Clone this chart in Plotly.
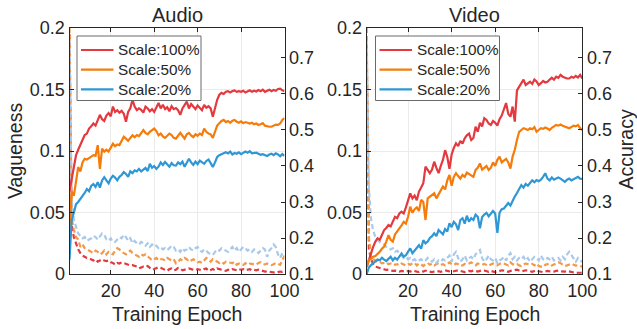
import plotly.graph_objects as go

epochs = list(range(1, 101))
scale_labels = ["Scale:100%", "Scale:50%", "Scale:20%"]
panel_titles = ["Audio", "Video"]

# ---------- Audio: accuracy (right axis) ----------
audio_acc_100 = [0.33,0.364,0.40,0.43,0.445,0.458,0.47,0.486,0.49,0.504,
                 0.51,0.518,0.512,0.528,0.542,0.53,0.525,0.54,0.547,0.538,
                 0.565,0.55,0.555,0.548,0.553,0.545,0.523,0.55,0.56,0.584,
                 0.565,0.555,0.56,0.556,0.548,0.565,0.56,0.552,0.558,0.55,
                 0.565,0.575,0.56,0.57,0.558,0.563,0.552,0.566,0.558,0.561,
                 0.555,0.542,0.56,0.568,0.579,0.56,0.572,0.565,0.558,0.568,
                 0.561,0.555,0.57,0.562,0.566,0.56,0.537,0.56,0.584,0.598,
                 0.603,0.60,0.606,0.608,0.604,0.608,0.61,0.606,0.608,0.606,
                 0.609,0.604,0.608,0.61,0.606,0.609,0.607,0.611,0.608,0.612,
                 0.606,0.61,0.612,0.608,0.611,0.609,0.614,0.615,0.61,0.608]
audio_acc_50 = [0.22,0.33,0.317,0.36,0.397,0.385,0.41,0.42,0.418,0.422,
                0.425,0.43,0.428,0.458,0.392,0.448,0.44,0.445,0.44,0.452,
                0.462,0.455,0.46,0.458,0.47,0.481,0.476,0.47,0.478,0.485,
                0.48,0.486,0.483,0.49,0.50,0.492,0.488,0.495,0.50,0.504,
                0.497,0.485,0.49,0.482,0.478,0.485,0.49,0.486,0.478,0.476,
                0.485,0.492,0.484,0.476,0.488,0.492,0.485,0.48,0.488,0.484,
                0.49,0.486,0.504,0.495,0.49,0.488,0.478,0.498,0.512,0.519,
                0.525,0.528,0.522,0.525,0.52,0.526,0.528,0.523,0.52,0.524,
                0.519,0.522,0.521,0.518,0.52,0.516,0.518,0.514,0.516,0.519,
                0.512,0.51,0.509,0.509,0.512,0.515,0.514,0.518,0.528,0.533]
audio_acc_20 = [0.14,0.25,0.27,0.294,0.30,0.31,0.317,0.325,0.336,0.33,
                0.345,0.35,0.342,0.355,0.34,0.36,0.369,0.36,0.352,0.365,
                0.373,0.368,0.36,0.37,0.375,0.383,0.378,0.37,0.385,0.38,
                0.388,0.385,0.392,0.385,0.39,0.395,0.386,0.406,0.395,0.40,
                0.392,0.398,0.41,0.403,0.411,0.405,0.398,0.408,0.402,0.401,
                0.41,0.405,0.412,0.398,0.408,0.42,0.41,0.403,0.412,0.405,
                0.415,0.41,0.406,0.414,0.418,0.408,0.397,0.41,0.425,0.43,
                0.432,0.434,0.438,0.435,0.44,0.432,0.436,0.434,0.438,0.433,
                0.436,0.44,0.437,0.441,0.435,0.437,0.437,0.434,0.431,0.433,
                0.43,0.428,0.432,0.434,0.43,0.435,0.432,0.427,0.433,0.428]

# ---------- Audio: vagueness (left axis) ----------
audio_vag_100 = [0.195,0.04,0.03,0.024,0.02,0.017,0.015,0.014,0.013,0.0128,
                 0.012,0.011,0.012,0.01,0.011,0.012,0.011,0.0105,0.011,0.0095,
                 0.009,0.0075,0.009,0.0085,0.0095,0.0088,0.0085,0.0078,0.007,0.0072,
                 0.0065,0.006,0.0046,0.005,0.006,0.0055,0.0065,0.005,0.0035,0.004,
                 0.0045,0.0055,0.005,0.004,0.003,0.0025,0.004,0.0045,0.003,0.0035,
                 0.005,0.0045,0.003,0.0035,0.004,0.0045,0.004,0.0035,0.003,0.004,
                 0.0035,0.003,0.004,0.0045,0.0025,0.003,0.004,0.003,0.0045,0.004,
                 0.0035,0.003,0.0025,0.0035,0.003,0.004,0.0035,0.003,0.004,0.0035,
                 0.004,0.003,0.0035,0.004,0.003,0.0035,0.003,0.0035,0.003,0.0025,
                 0.002,0.0022,0.002,0.0015,0.0012,0.001,0.0015,0.002,0.0018,0.0025]
audio_vag_50 = [0.2,0.045,0.036,0.03,0.028,0.022,0.024,0.021,0.02,0.019,
                0.018,0.017,0.019,0.018,0.016,0.017,0.019,0.016,0.018,0.017,
                0.016,0.019,0.021,0.02,0.018,0.017,0.016,0.018,0.019,0.017,
                0.016,0.015,0.014,0.016,0.015,0.016,0.014,0.013,0.011,0.012,
                0.013,0.011,0.012,0.012,0.011,0.013,0.012,0.011,0.012,0.0087,
                0.01,0.012,0.011,0.013,0.012,0.01,0.011,0.012,0.011,0.0095,
                0.01,0.009,0.011,0.013,0.012,0.01,0.012,0.011,0.01,0.009,
                0.01,0.0085,0.01,0.0095,0.009,0.0088,0.01,0.0075,0.0085,0.0075,
                0.0073,0.0088,0.0075,0.0085,0.0082,0.0079,0.0075,0.009,0.0095,0.008,
                0.0078,0.0085,0.0078,0.0072,0.008,0.009,0.0082,0.0075,0.011,0.015]
audio_vag_20 = [0.19,0.06,0.044,0.038,0.033,0.031,0.029,0.03,0.027,0.028,
                0.029,0.031,0.03,0.028,0.031,0.033,0.032,0.028,0.027,0.029,
                0.026,0.026,0.028,0.03,0.029,0.032,0.03,0.027,0.029,0.025,
                0.027,0.025,0.024,0.026,0.025,0.023,0.025,0.022,0.024,0.022,
                0.023,0.021,0.022,0.02,0.021,0.0195,0.021,0.023,0.022,0.019,
                0.02,0.018,0.021,0.019,0.02,0.022,0.02,0.019,0.021,0.022,
                0.019,0.018,0.02,0.019,0.017,0.016,0.0155,0.018,0.02,0.019,
                0.021,0.02,0.019,0.018,0.02,0.022,0.019,0.021,0.018,0.02,
                0.022,0.021,0.019,0.02,0.018,0.02,0.019,0.017,0.019,0.021,
                0.02,0.014,0.019,0.021,0.024,0.022,0.016,0.013,0.017,0.019]

# ---------- Video: accuracy (right axis) ----------
video_acc_100 = [0.12,0.139,0.16,0.176,0.19,0.199,0.195,0.21,0.222,0.228,
                 0.236,0.232,0.245,0.259,0.255,0.268,0.273,0.268,0.285,0.306,
                 0.324,0.31,0.318,0.305,0.329,0.34,0.352,0.398,0.39,0.38,
                 0.39,0.412,0.395,0.38,0.40,0.417,0.444,0.425,0.392,0.432,
                 0.45,0.463,0.455,0.47,0.462,0.477,0.485,0.49,0.472,0.478,
                 0.509,0.495,0.52,0.51,0.533,0.528,0.518,0.514,0.525,0.52,
                 0.512,0.53,0.54,0.56,0.575,0.545,0.537,0.565,0.523,0.61,
                 0.62,0.63,0.64,0.625,0.63,0.634,0.628,0.64,0.635,0.625,
                 0.63,0.636,0.632,0.634,0.64,0.645,0.64,0.648,0.645,0.653,
                 0.648,0.645,0.643,0.643,0.648,0.645,0.65,0.646,0.653,0.643]
video_acc_50 = [0.12,0.139,0.142,0.148,0.15,0.155,0.162,0.17,0.176,0.19,
                0.208,0.195,0.19,0.21,0.22,0.227,0.235,0.245,0.24,0.259,
                0.287,0.27,0.28,0.285,0.275,0.306,0.30,0.25,0.31,0.315,
                0.32,0.324,0.31,0.32,0.33,0.343,0.335,0.36,0.375,0.345,
                0.37,0.38,0.372,0.365,0.375,0.37,0.382,0.378,0.372,0.37,
                0.389,0.395,0.407,0.39,0.395,0.40,0.389,0.395,0.41,0.40,
                0.417,0.426,0.41,0.415,0.42,0.41,0.393,0.426,0.445,0.472,
                0.495,0.50,0.505,0.503,0.50,0.505,0.502,0.508,0.495,0.50,
                0.505,0.503,0.507,0.504,0.50,0.506,0.51,0.514,0.512,0.515,
                0.512,0.51,0.508,0.505,0.508,0.512,0.51,0.514,0.505,0.50]
video_acc_20 = [0.10,0.118,0.125,0.13,0.134,0.14,0.138,0.145,0.14,0.136,
                0.142,0.148,0.138,0.145,0.14,0.15,0.157,0.148,0.152,0.162,
                0.171,0.158,0.165,0.175,0.18,0.17,0.194,0.185,0.19,0.20,
                0.205,0.213,0.205,0.222,0.215,0.21,0.225,0.218,0.241,0.23,
                0.245,0.238,0.222,0.25,0.255,0.24,0.262,0.245,0.255,0.25,
                0.265,0.259,0.227,0.258,0.265,0.27,0.26,0.268,0.275,0.268,
                0.214,0.27,0.28,0.282,0.29,0.297,0.29,0.305,0.315,0.325,
                0.335,0.347,0.34,0.35,0.345,0.353,0.36,0.355,0.361,0.358,
                0.362,0.37,0.38,0.365,0.36,0.368,0.362,0.365,0.368,0.365,
                0.36,0.356,0.362,0.365,0.36,0.363,0.368,0.37,0.365,0.364]

# ---------- Video: vagueness (left axis) ----------
video_vag_100 = [0.18,0.02,0.012,0.008,0.006,0.0055,0.0045,0.004,0.0035,0.0033,
                 0.0035,0.003,0.0025,0.0028,0.0022,0.002,0.0025,0.0022,0.0018,0.0025,
                 0.002,0.0028,0.0022,0.002,0.0018,0.0025,0.002,0.0028,0.0022,0.0018,
                 0.0015,0.002,0.0025,0.0022,0.0018,0.0025,0.003,0.0025,0.002,0.0018,
                 0.0022,0.0028,0.003,0.0025,0.002,0.0015,0.002,0.0025,0.0022,0.0028,
                 0.0025,0.002,0.0025,0.003,0.0028,0.0022,0.0018,0.0025,0.002,0.0015,
                 0.0018,0.0025,0.003,0.0028,0.0022,0.0018,0.0025,0.0028,0.003,0.0035,
                 0.0028,0.0022,0.0025,0.003,0.0028,0.0022,0.0018,0.0025,0.003,0.0022,
                 0.0018,0.0015,0.002,0.0025,0.0022,0.0018,0.002,0.0025,0.0028,0.0022,
                 0.0018,0.002,0.0025,0.002,0.0012,0.001,0.0008,0.001,0.0012,0.001]
video_vag_50 = [0.2,0.03,0.014,0.012,0.011,0.0095,0.01,0.0087,0.009,0.0095,
                0.008,0.0085,0.009,0.0075,0.008,0.007,0.0085,0.0078,0.007,0.0082,
                0.0075,0.0087,0.009,0.007,0.0085,0.0078,0.0065,0.008,0.009,0.0075,
                0.0085,0.007,0.0082,0.009,0.0075,0.008,0.007,0.0085,0.0095,0.008,
                0.0072,0.0085,0.008,0.0065,0.007,0.0082,0.0078,0.0085,0.0095,0.008,
                0.007,0.0085,0.008,0.0075,0.0082,0.007,0.0065,0.0078,0.0085,0.0075,
                0.007,0.0082,0.009,0.0085,0.0078,0.007,0.0095,0.008,0.0075,0.0082,
                0.007,0.0065,0.0078,0.0085,0.008,0.0075,0.0082,0.007,0.0085,0.0065,
                0.006,0.0055,0.0075,0.008,0.0085,0.007,0.0078,0.0082,0.0095,0.0088,
                0.0075,0.0065,0.007,0.008,0.0085,0.0075,0.0068,0.007,0.0065,0.006]
video_vag_20 = [0.19,0.07,0.045,0.035,0.03,0.028,0.026,0.025,0.024,0.022,
                0.021,0.02,0.021,0.018,0.019,0.017,0.015,0.013,0.014,0.012,
                0.013,0.011,0.012,0.01,0.011,0.012,0.01,0.011,0.013,0.011,
                0.01,0.012,0.009,0.011,0.01,0.012,0.011,0.013,0.015,0.01,
                0.016,0.018,0.013,0.01,0.012,0.015,0.011,0.013,0.014,0.012,
                0.016,0.018,0.0195,0.013,0.01,0.012,0.015,0.012,0.011,0.013,
                0.009,0.011,0.012,0.014,0.011,0.015,0.017,0.012,0.014,0.011,
                0.013,0.012,0.014,0.011,0.013,0.01,0.012,0.014,0.013,0.011,
                0.015,0.012,0.011,0.013,0.012,0.014,0.011,0.012,0.013,0.011,
                0.014,0.012,0.016,0.018,0.015,0.012,0.01,0.013,0.011,0.01]

acc_colors = ["#E3393F", "#F57C0A", "#2E97D4"]
vag_colors = ["#E3393F", "#F4994A", "#A9C9EA"]

FONT = "Liberation Sans, Arial, sans-serif"
TXT = "#262626"
W, H = 637, 329

panels = [
    dict(acc=[audio_acc_100, audio_acc_50, audio_acc_20],
         vag=[audio_vag_100, audio_vag_50, audio_vag_20],
         xa="x", ya_left="y", ya_right="y2"),
    dict(acc=[video_acc_100, video_acc_50, video_acc_20],
         vag=[video_vag_100, video_vag_50, video_vag_20],
         xa="x2", ya_left="y3", ya_right="y4"),
]

fig = go.Figure()
for p in panels:
    for i in range(3):
        fig.add_trace(go.Scatter(x=epochs, y=p["vag"][i], mode="lines",
                                 xaxis=p["xa"], yaxis=p["ya_left"],
                                 line=dict(color=vag_colors[i], width=2.2, dash="5px,3px"),
                                 showlegend=False, hoverinfo="skip"))
    for i in range(3):
        fig.add_trace(go.Scatter(x=epochs, y=p["acc"][i], mode="lines",
                                 xaxis=p["xa"], yaxis=p["ya_right"],
                                 line=dict(color=acc_colors[i], width=2.2),
                                 name=scale_labels[i], showlegend=False))


def px_x(v):
    return v / W


def px_y(v):
    return 1 - v / H


top, bottom = 28, 274
dom_y = [px_y(bottom), px_y(top)]
dom_x1 = [px_x(69.5), px_x(284.5)]
dom_x2 = [px_x(366.7), px_x(582.3)]

tickfont = dict(family=FONT, size=18, color=TXT)
common_x = dict(range=[1, 100], tickvals=[20, 40, 60, 80, 100],
                ticks="inside", ticklen=4, tickcolor=TXT, showline=True,
                linecolor=TXT, linewidth=1, mirror="ticks", showgrid=True,
                gridcolor="#EBEBEB", gridwidth=1, zeroline=False, tickfont=tickfont,
                automargin=False)
left_y = dict(range=[0, 0.2], tickvals=[0, 0.05, 0.1, 0.15, 0.2],
              ticktext=["0", "0.05", "0.1", "0.15", "0.2"],
              ticks="inside", ticklen=4, tickcolor=TXT, showline=True,
              linecolor=TXT, linewidth=1, showgrid=True, gridcolor="#EBEBEB",
              zeroline=False, tickfont=tickfont, domain=dom_y, automargin=False)
right_y = dict(range=[0.1, 0.7833], tickvals=[0.1, 0.2, 0.3, 0.4, 0.5, 0.6, 0.7],
               ticktext=["0.1", "0.2", "0.3", "0.4", "0.5", "0.6", "0.7"],
               ticks="inside", ticklen=4, tickcolor=TXT, showline=True,
               linecolor=TXT, linewidth=1, showgrid=False, zeroline=False,
               tickfont=tickfont, side="right", automargin=False)

fig.update_layout(
    width=W, height=H, margin=dict(l=0, r=0, t=0, b=0, autoexpand=False),
    paper_bgcolor="white", plot_bgcolor="white",
    font=dict(family=FONT, color=TXT),
    xaxis=dict(common_x, domain=dom_x1, anchor="y"),
    yaxis=dict(left_y, anchor="x"),
    yaxis2=dict(right_y, overlaying="y", anchor="x"),
    xaxis2=dict(common_x, domain=dom_x2, anchor="y3"),
    yaxis3=dict(left_y, anchor="x2"),
    yaxis4=dict(right_y, overlaying="y3", anchor="x2"),
    showlegend=False,
)

ann = []
shapes = []
for t, cx in zip(panel_titles, [177.5, 474]):
    ann.append(dict(text=t, x=px_x(cx), y=px_y(15), xref="paper", yref="paper",
                    showarrow=False, xanchor="center", yanchor="middle",
                    font=dict(family=FONT, size=20, color=TXT)))
for cx in [177, 474.5]:
    ann.append(dict(text="Training Epoch", x=px_x(cx), y=px_y(314), xref="paper",
                    yref="paper", showarrow=False, xanchor="center", yanchor="middle",
                    font=dict(family=FONT, size=19.5, color=TXT)))
ann.append(dict(text="Vagueness", x=px_x(15), y=px_y(151), xref="paper", yref="paper",
                showarrow=False, xanchor="center", yanchor="middle", textangle=-90,
                font=dict(family=FONT, size=19.5, color=TXT)))
ann.append(dict(text="Accuracy", x=px_x(625.5), y=px_y(150), xref="paper", yref="paper",
                showarrow=False, xanchor="center", yanchor="middle", textangle=-90,
                font=dict(family=FONT, size=19.5, color=TXT)))

# legends (one per panel), drawn as a boxed key
for left in [77, 375.5]:
    shapes.append(dict(type="rect", xref="paper", yref="paper",
                       x0=px_x(left), x1=px_x(left + 124), y0=px_y(100.5), y1=px_y(36),
                       line=dict(color="#6A6A6A", width=1), fillcolor="white", layer="above"))
    for i, lab in enumerate(scale_labels):
        ry = 50 + 19.7 * i
        shapes.append(dict(type="line", xref="paper", yref="paper",
                           x0=px_x(left + 4), x1=px_x(left + 36.5), y0=px_y(ry), y1=px_y(ry),
                           line=dict(color=acc_colors[i], width=2.2), layer="above"))
        ann.append(dict(text=lab, x=px_x(left + 39), y=px_y(ry), xref="paper", yref="paper",
                        showarrow=False, xanchor="left", yanchor="middle",
                        font=dict(family=FONT, size=15.3, color=TXT)))

fig.update_layout(annotations=ann, shapes=shapes)

fig.write_html("out.html",
               config={"displayModeBar": False},
               post_script="document.body.style.margin='0px';document.body.style.padding='0px';document.body.style.overflow='hidden';")
